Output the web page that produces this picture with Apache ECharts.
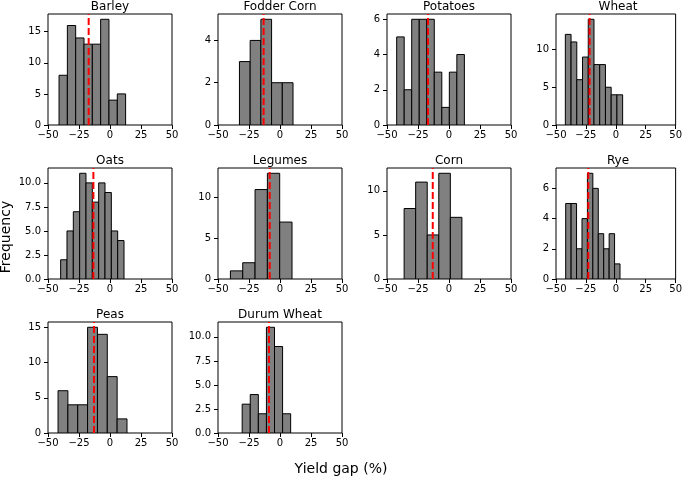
<!DOCTYPE html>
<html><head><meta charset="utf-8">
<script src="https://cdn.jsdelivr.net/npm/echarts@6/dist/echarts.min.js"></script>
<style>html,body{margin:0;padding:0;background:#fff}#c{width:685px;height:480px}</style>
</head><body><div id="c"></div>
<script>
const crops = ['Barley','Fodder Corn','Potatoes','Wheat','Oats','Legumes','Corn','Rye','Peas','Durum Wheat'];
const binMin = [-41.1, -32.7, -42.2, -42.2, -39.8, -40.0, -36.2, -41.9, -41.9, -30.5];
const binMax = [12.6, 10.5, 12.4, 5.7, 11.3, 9.7, 10.4, 3.5, 13.7, 8.6];
const countsBarley = [8,16,14,13,13,17,4,5];
const countsFodderCorn = [3,4,5,2,2];
const countsPotatoes = [5,2,6,6,6,3,1,3,4];
const countsWheat = [12,11,6,9,14,8,8,5,4,4];
const countsOats = [2,5,7,11,10,8,10,9,5,4];
const countsLegumes = [1,2,11,13,7];
const countsCorn = [8,11,5,12,7];
const countsRye = [5,5,2,4,7,6,3,2,3,1];
const countsPeas = [6,4,4,15,14,8,2];
const countsDurumWheat = [3,4,2,11,9,2];
const means = [-17.2, -13.2, -17.0, -21.9, -13.4, -8.3, -13.1, -23.0, -12.9, -8.9];
const xTicks = [-50,-25,0,25,50];
const yTicks = [[0,5,10,15],[0,2,4],[0,2,4,6],[0,5,10],[0,2.5,5,7.5,10],[0,5,10],[0,5,10],[0,2,4,6],[0,5,10,15],[0,2.5,5,7.5,10]];
const yDecimals = [0,0,0,0,1,0,0,0,0,1];
const allCounts = [countsBarley,countsFodderCorn,countsPotatoes,countsWheat,countsOats,countsLegumes,countsCorn,countsRye,countsPeas,countsDurumWheat];

const colLeft = [48, 218, 387, 556];
const rowTop = [14, 168, 322];
const W = 124, H = 111;
const FONT = 'DejaVu Sans';
const fmt = (v, d) => { const s = (d ? v.toFixed(d) : String(v)); return s.replace('-', '\u2212'); };

const grid = [], xAxis = [], yAxis = [], series = [], title = [];
crops.forEach((name, i) => {
  const r = Math.floor(i / 4), c = i % 4;
  const counts = allCounts[i];
  const n = counts.length;
  const w = (binMax[i] - binMin[i]) / n;
  const data = counts.map((v, k) => [binMin[i] + k * w, binMin[i] + (k + 1) * w, v]);
  const yMax = Math.max(...counts) * 1.05;
  grid.push({left: colLeft[c], top: rowTop[r], width: W, height: H, show: true, borderColor: '#000', borderWidth: 1, backgroundColor: 'transparent'});
  xAxis.push({type: 'value', gridIndex: i, min: -50, max: 50, interval: 25,
    axisLine: {show: false, onZero: false}, splitLine: {show: false},
    axisTick: {show: true, length: 4, lineStyle: {color: '#000'}, customValues: xTicks},
    axisLabel: {color: '#000', fontFamily: FONT, fontSize: 10, margin: 5, customValues: xTicks, formatter: v => fmt(v, 0)}});
  yAxis.push({type: 'value', gridIndex: i, min: 0, max: yMax,
    axisLine: {show: false, onZero: false}, splitLine: {show: false},
    axisTick: {show: true, length: 4, lineStyle: {color: '#000'}, customValues: yTicks[i]},
    axisLabel: {color: '#000', fontFamily: FONT, fontSize: 10, margin: 7, customValues: yTicks[i], formatter: v => fmt(v, yDecimals[i])}});
  title.push({text: name, left: colLeft[c] + W / 2, top: rowTop[r] - 13, textAlign: 'center', padding: 0,
    textStyle: {fontFamily: FONT, fontSize: 12, fontWeight: 'normal', color: '#000'}});
  series.push({type: 'custom', xAxisIndex: i, yAxisIndex: i, data: data, clip: true,
    renderItem: (params, api) => {
      const p0 = api.coord([api.value(0), api.value(2)]);
      const p1 = api.coord([api.value(1), 0]);
      return {type: 'rect', shape: {x: p0[0], y: p0[1], width: p1[0] - p0[0], height: p1[1] - p0[1]},
        style: {fill: '#808080', stroke: '#000', lineWidth: 1}};
    }});
  series.push({type: 'line', xAxisIndex: i, yAxisIndex: i, data: [[means[i], 0], [means[i], yMax]],
    showSymbol: false, symbol: 'none', z: 5, animation: false,
    lineStyle: {color: '#ff0000', width: 2, type: [7, 3]}});
});

const chart = echarts.init(document.getElementById('c'), null, {renderer: 'canvas'});
chart.setOption({
  animation: false,
  title: title,
  grid: grid, xAxis: xAxis, yAxis: yAxis, series: series,
  graphic: [
    {type: 'text', x: 6, y: 237, rotation: Math.PI / 2, style: {text: 'Frequency', fontFamily: FONT, fontSize: 14, fill: '#000', align: 'center', verticalAlign: 'middle'}},
    {type: 'text', x: 341, y: 469, style: {text: 'Yield gap (%)', fontFamily: FONT, fontSize: 14, fill: '#000', align: 'center', verticalAlign: 'middle'}}
  ]
});
</script></body></html>
